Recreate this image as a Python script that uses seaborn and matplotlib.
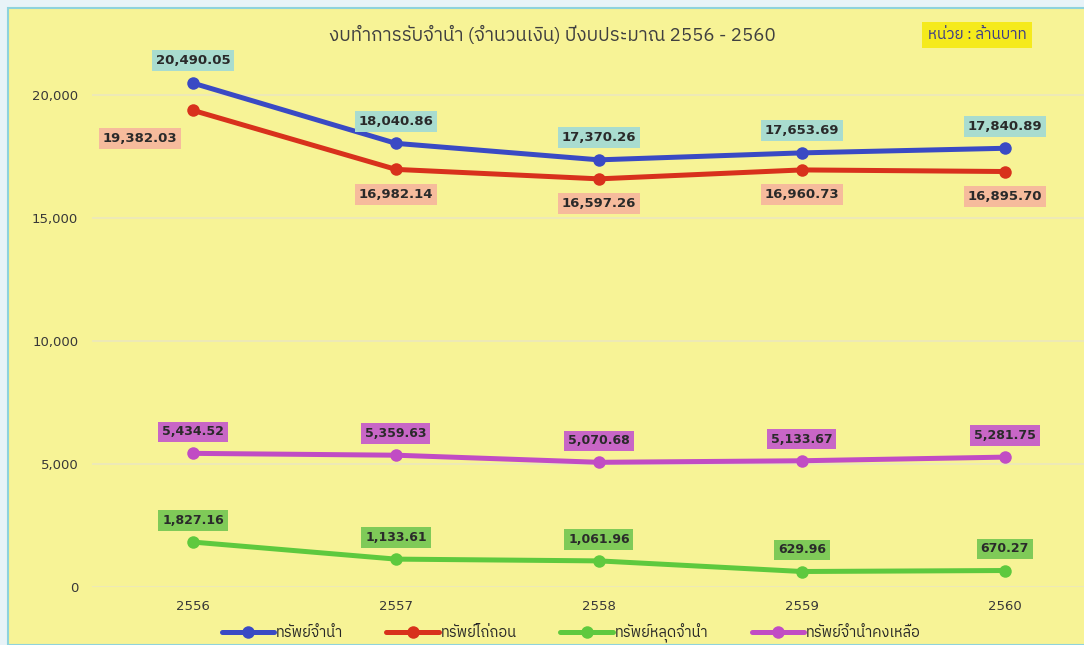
import pandas as pd
import matplotlib
matplotlib.use("Agg")
import matplotlib.pyplot as plt
from matplotlib import font_manager, ft2font
from matplotlib.patches import Rectangle
import seaborn as sns

# data (million baht), fiscal years 2556-2560
years = ["2556", "2557", "2558", "2559", "2560"]
series_names = ["ทรัพย์จำนำ", "ทรัพย์ไถ่ถอน", "ทรัพย์หลุดจำนำ", "ทรัพย์จำนำคงเหลือ"]
pawned = [20490.05, 18040.86, 17370.26, 17653.69, 17840.89]
redeemed = [19382.03, 16982.14, 16597.26, 16960.73, 16895.70]
forfeited = [1827.16, 1133.61, 1061.96, 629.96, 670.27]
remaining = [5434.52, 5359.63, 5070.68, 5133.67, 5281.75]
y_ticks = [0, 5000, 10000, 15000, 20000]

title = "งบทำการรับจำนำ (จำนวนเงิน) ปีงบประมาณ 2556 - 2560"
unit = "หน่วย : ล้านบาท"

line_colors = ["#3a4ac4", "#d8311c", "#5ec93e", "#c14cc4"]
box_colors = ["#a9dccf", "#f6bb9c", "#7fca58", "#c866c6"]
bg_yellow = "#f7f396"


def find_thai_font():
    # pick an installed font that has Thai glyphs
    found = []
    for f in font_manager.fontManager.ttflist:
        try:
            cmap = ft2font.FT2Font(f.fname).get_charmap()
        except Exception:
            continue
        if 0x0E17 in cmap and 0x0E33 in cmap:
            found.append(f.name)
    for name in found:
        if "Thai" in name:
            return name
    return found[0] if found else "DejaVu Sans"


sns.set_theme(style="white")
thai = find_thai_font()
plt.rcParams["font.family"] = [thai, "DejaVu Sans"]

df = pd.DataFrame({
    "pos": list(range(len(years))) * 4,
    "value": pawned + redeemed + forfeited + remaining,
    "series": [s for s in series_names for _ in years],
})

fig = plt.figure(figsize=(10.84, 6.45), dpi=100)
fig.patch.set_facecolor("#e8f3f8")
fig.patches.append(Rectangle((8 / 1084, 0), 1, 637 / 645, transform=fig.transFigure,
                             facecolor=bg_yellow, edgecolor="#8fd3dc", linewidth=1.5, zorder=-5))

ax = fig.add_axes([91.5 / 1084, 58 / 645, 1 - 91.5 / 1084, 541 / 645])
ax.set_facecolor("none")
ax.set_zorder(2)

sns.lineplot(data=df, x="pos", y="value", hue="series", hue_order=series_names,
             palette=line_colors, marker="o", markersize=9, markeredgewidth=0,
             linewidth=3.6, ax=ax)

ax.set_xlim(-0.5, 4.39)
ax.set_ylim(0, 22000)
ax.set_xticks(range(len(years)))
ax.set_xticklabels(years, family="DejaVu Sans")
ax.set_yticks(y_ticks)
ax.set_yticklabels([f"{v:,}" for v in y_ticks], family="DejaVu Sans")
ax.tick_params(axis="both", length=0, labelsize=9.5, labelcolor="#383838")
ax.tick_params(axis="y", pad=9.5)
ax.tick_params(axis="x", pad=9)
ax.set_xlabel("")
ax.set_ylabel("")
ax.grid(axis="y", color="#ebe8bd", linewidth=1.2)
for sp in ax.spines.values():
    sp.set_visible(False)

# data labels
all_series = [pawned, redeemed, forfeited, remaining]
for k, vals in enumerate(all_series):
    for i, v in enumerate(vals):
        if k == 1:
            dx, dy = (-38, -20) if i == 0 else (0, -18)
        elif k == 0:
            dx, dy = 0, 16
        else:
            dx, dy = 0, 15.5
        ax.annotate(f"{v:,.2f}", (i, v), xytext=(dx, dy), textcoords="offset points",
                    ha="center", va="center", fontsize=9.5 if k < 2 else 9, fontweight="bold",
                    family="DejaVu Sans", color="#2a2a2a",
                    bbox=dict(boxstyle="square,pad=0.3", facecolor=box_colors[k], edgecolor="none"))

fig.text(552 / 1084, 1 - 35 / 645, title, ha="center", va="center", fontsize=13.5, color="#404040")
fig.text(977 / 1084, 1 - 35 / 645, unit, ha="center", va="center", fontsize=11, color="#3b3b8a",
         bbox=dict(boxstyle="square,pad=0.4", facecolor="#f5ea1c", edgecolor="none"))

sns.move_legend(ax, "center", bbox_to_anchor=((571 - 91.5) / (1084 - 91.5), -0.085),
                ncol=4, frameon=False, title=None, fontsize=10.5, handlelength=3.6,
                columnspacing=3.0, handletextpad=0.1)

fig.savefig("out.png", dpi=100, facecolor=fig.get_facecolor())
